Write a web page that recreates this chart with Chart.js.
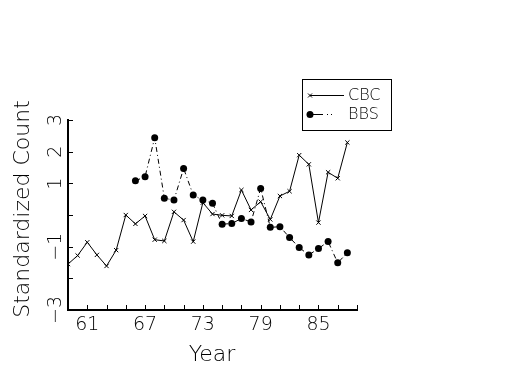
<!DOCTYPE html>
<html>
<head>
<meta charset="utf-8">
<script src="https://cdn.jsdelivr.net/npm/chart.js@4/dist/chart.umd.min.js"></script>
<style>
  html, body { margin: 0; padding: 0; background: #fff; }
  #wrap { width: 525px; height: 375px; }
</style>
</head>
<body>
<div id="wrap"><canvas id="chart" width="525" height="375"></canvas></div>
<script>
// ---- data ----
const cbcYears = [59, 60, 61, 62, 63, 64, 65, 66, 67, 68, 69, 70, 71, 72, 73, 74,
                  75, 76, 77, 78, 79, 80, 81, 82, 83, 84, 85, 86, 87, 88];
const cbcValues = [-1.55, -1.28, -0.86, -1.26, -1.61, -1.11, 0.00, -0.28, -0.03, -0.78,
                   -0.82, 0.10, -0.16, -0.84, 0.39, 0.03, -0.01, -0.03, 0.79, 0.16,
                   0.42, -0.14, 0.60, 0.75, 1.89, 1.60, -0.24, 1.35, 1.16, 2.29];
const bbsYears = [66, 67, 68, 69, 70, 71, 72, 73, 74, 75, 76, 77,
                  78, 79, 80, 81, 82, 83, 84, 85, 86, 87, 88];
const bbsValues = [1.08, 1.21, 2.44, 0.53, 0.47, 1.47, 0.63, 0.47, 0.37, -0.29, -0.27, -0.11,
                   -0.22, 0.84, -0.39, -0.37, -0.71, -1.03, -1.26, -1.06, -0.84, -1.51, -1.19];
const seriesNames = ['CBC', 'BBS'];
const yTickLabels = [3, 2, 1, -1, -3];
const xTickLabels = [61, 67, 73, 79, 85];

const FONT = '"DejaVu Sans", "Liberation Sans", sans-serif';

function toPoints(xs, ys) {
  return xs.map((x, i) => ({ x: x, y: ys[i] }));
}

// ticks, rotated y labels, titles and the boxed legend
const decor = {
  id: 'decor',
  afterDraw(chart) {
    const ctx = chart.ctx;
    const xs = chart.scales.x, ys = chart.scales.y, a = chart.chartArea;
    ctx.save();
    ctx.strokeStyle = '#000';
    ctx.fillStyle = '#000';
    ctx.lineWidth = 1;

    // inward tick marks
    for (let v = -3; v <= 3; v++) {
      const py = Math.round(ys.getPixelForValue(v)) + 0.5;
      ctx.beginPath(); ctx.moveTo(a.left, py); ctx.lineTo(a.left + 5, py); ctx.stroke();
    }
    for (let yr = 61; yr <= 89; yr += 2) {
      const px = Math.round(xs.getPixelForValue(yr)) + 0.5;
      ctx.beginPath(); ctx.moveTo(px, a.bottom); ctx.lineTo(px, a.bottom - 5); ctx.stroke();
    }

    // y tick labels, turned on their side
    ctx.font = '200 19px ' + FONT;
    ctx.textAlign = 'center';
    ctx.textBaseline = 'middle';
    yTickLabels.forEach(v => {
      ctx.save();
      ctx.translate(56, ys.getPixelForValue(v));
      ctx.rotate(-Math.PI / 2);
      ctx.fillText(String(v).replace('-', '\u2212'), 0, 0);
      ctx.restore();
    });

    // axis titles
    ctx.font = '200 22px ' + FONT;
    ctx.save();
    ctx.translate(23, 209);
    ctx.rotate(-Math.PI / 2);
    ctx.fillText('Standardized Count', 0, 0);
    ctx.restore();
    ctx.fillText('Year', 212, 355);

    // legend
    ctx.strokeRect(302.5, 79.5, 89, 51);
    ctx.font = '200 16px ' + FONT;
    ctx.textAlign = 'left';
    const ds = chart.data.datasets;
    // CBC row
    let ry = 95.5;
    ctx.beginPath(); ctx.moveTo(310, ry); ctx.lineTo(344, ry); ctx.stroke();
    ctx.beginPath();
    ctx.moveTo(308, ry - 2); ctx.lineTo(312, ry + 2);
    ctx.moveTo(308, ry + 2); ctx.lineTo(312, ry - 2);
    ctx.stroke();
    ctx.fillText(ds[0].label, 348, ry);
    // BBS row
    ry = 114.5;
    ctx.beginPath(); ctx.moveTo(310, ry); ctx.lineTo(323, ry); ctx.stroke();
    ctx.fillRect(327, ry - 0.5, 1, 1);
    ctx.fillRect(331, ry - 0.5, 1, 1);
    ctx.beginPath(); ctx.arc(310, ry, 3.5, 0, Math.PI * 2); ctx.fill();
    ctx.fillText(ds[1].label, 348, ry);

    ctx.restore();
  }
};

new Chart(document.getElementById('chart'), {
  type: 'line',
  data: {
    datasets: [
      {
        label: seriesNames[0],
        data: toPoints(cbcYears, cbcValues),
        borderColor: '#000',
        borderWidth: 1,
        pointStyle: 'crossRot',
        pointRadius: 3,
        pointBorderColor: '#000',
        pointBorderWidth: 1,
        tension: 0,
        fill: false
      },
      {
        label: seriesNames[1],
        data: toPoints(bbsYears, bbsValues),
        borderColor: '#000',
        borderWidth: 1,
        borderDash: [5, 3, 1, 3],
        pointStyle: 'circle',
        pointRadius: 3.5,
        pointBackgroundColor: '#000',
        pointBorderColor: '#000',
        pointBorderWidth: 0,
        tension: 0,
        fill: false
      }
    ]
  },
  options: {
    responsive: false,
    animation: false,
    devicePixelRatio: 1,
    layout: { padding: { left: 0, top: 120, right: 168, bottom: 0 } },
    plugins: {
      legend: { display: false },
      tooltip: { enabled: false }
    },
    scales: {
      x: {
        type: 'linear',
        position: 'bottom',
        min: 59,
        max: 89,
        afterFit: s => { s.height = 65; },
        grid: { display: true, drawOnChartArea: false, drawTicks: false, color: 'rgba(0,0,0,0)' },
        border: { display: true, color: '#000', width: 2 },
        ticks: {
          stepSize: 2,
          autoSkip: false,
          maxRotation: 0,
          padding: 4,
          color: '#000',
          font: { family: FONT, size: 19, weight: 200 },
          callback: v => xTickLabels.includes(v) ? String(v) : ''
        }
      },
      y: {
        min: -3,
        max: 3,
        afterFit: s => { s.width = 68; },
        grid: { display: true, drawOnChartArea: false, drawTicks: false, color: 'rgba(0,0,0,0)' },
        border: { display: true, color: '#000', width: 2 },
        ticks: { display: false, stepSize: 1 }
      }
    }
  },
  plugins: [decor]
});
</script>
</body>
</html>
